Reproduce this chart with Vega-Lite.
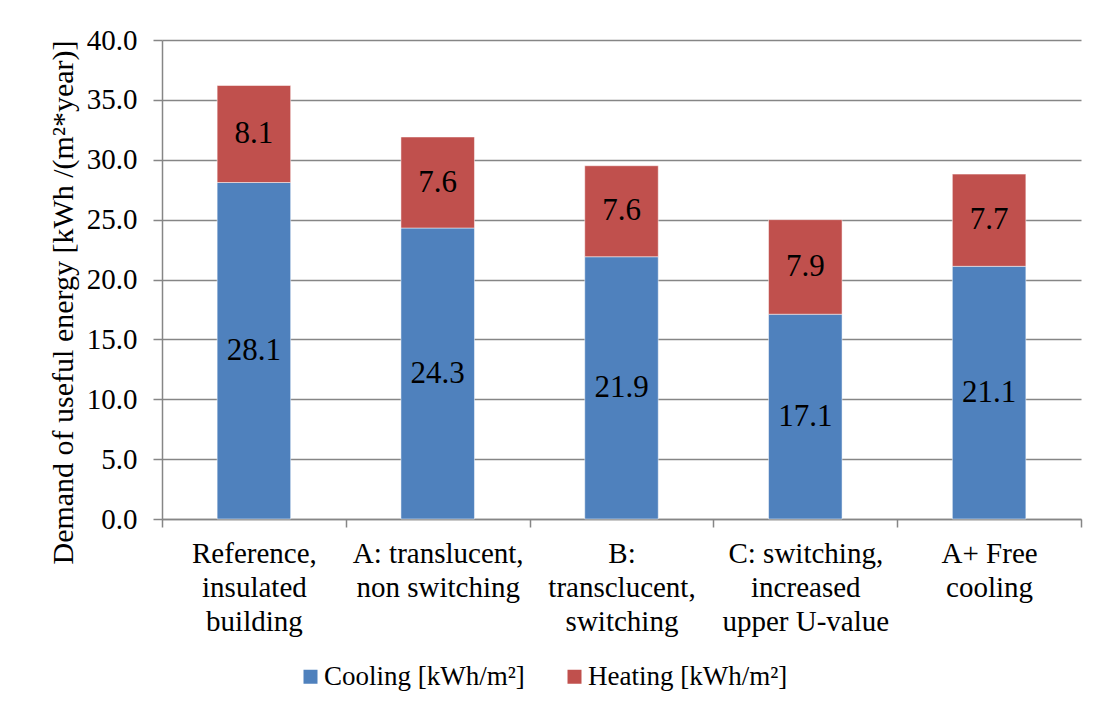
{
  "$schema": "https://vega.github.io/schema/vega-lite/v6.json",
  "width": 919,
  "height": 479,
  "autosize": {"type": "none"},
  "padding": {"left": 162, "top": 40, "right": 24, "bottom": 192},
  "background": "white",
  "config": {
    "font": "Liberation Serif",
    "view": {"stroke": null},
    "axis": {"labelColor": "black", "titleColor": "black", "domainColor": "#868686", "tickColor": "#868686", "domainWidth": 1.5, "tickWidth": 1.5}
  },
  "data": {
    "values": [
      {"scenario": "Reference,|insulated|building", "series": "Cooling [kWh/m²]", "value": 28.1},
      {"scenario": "Reference,|insulated|building", "series": "Heating [kWh/m²]", "value": 8.1},
      {"scenario": "A: translucent,|non switching", "series": "Cooling [kWh/m²]", "value": 24.3},
      {"scenario": "A: translucent,|non switching", "series": "Heating [kWh/m²]", "value": 7.6},
      {"scenario": "B:|transclucent,|switching", "series": "Cooling [kWh/m²]", "value": 21.9},
      {"scenario": "B:|transclucent,|switching", "series": "Heating [kWh/m²]", "value": 7.6},
      {"scenario": "C: switching,|increased|upper U-value", "series": "Cooling [kWh/m²]", "value": 17.1},
      {"scenario": "C: switching,|increased|upper U-value", "series": "Heating [kWh/m²]", "value": 7.9},
      {"scenario": "A+ Free|cooling", "series": "Cooling [kWh/m²]", "value": 21.1},
      {"scenario": "A+ Free|cooling", "series": "Heating [kWh/m²]", "value": 7.7}
    ]
  },
  "transform": [
    {"stack": "value", "groupby": ["scenario"], "sort": [{"field": "series", "order": "ascending"}], "as": ["v0", "v1"]},
    {"calculate": "(datum.v0 + datum.v1) / 2", "as": "mid"}
  ],
  "encoding": {
    "x": {
      "field": "scenario",
      "type": "nominal",
      "sort": null,
      "scale": {"paddingInner": 0, "paddingOuter": 0},
      "axis": {
        "title": null,
        "tickBand": "extent",
        "tickSize": 8,
        "labelAngle": 0,
        "labelExpr": "split(datum.label, '|')",
        "labelFontSize": 29,
        "labelLineHeight": 34,
        "labelPadding": 12,
        "labelLimit": 0,
        "grid": false
      }
    }
  },
  "layer": [
    {
      "mark": {"type": "bar", "width": {"band": 0.4}, "stroke": "#ffffff", "strokeWidth": 0.7, "strokeOpacity": 0.7},
      "encoding": {
        "y": {
          "field": "v0",
          "type": "quantitative",
          "scale": {"domain": [0, 40]},
          "axis": {
            "values": [0, 5, 10, 15, 20, 25, 30, 35, 40],
            "format": ".1f",
            "grid": true,
            "gridColor": "#868686",
            "gridWidth": 1.5,
            "tickSize": 9,
            "labelPadding": 16,
            "labelFontSize": 29,
            "title": "Demand of useful energy [kWh /(m²*year)]",
            "titleFontSize": 30,
            "titleFontWeight": "normal",
            "titlePadding": 8,
            "titleY": 262
          }
        },
        "y2": {"field": "v1"},
        "color": {
          "field": "series",
          "type": "nominal",
          "scale": {"domain": ["Cooling [kWh/m²]", "Heating [kWh/m²]"], "range": ["#4F81BD", "#C0504D"]},
          "legend": {
            "title": null,
            "orient": "none",
            "legendX": 135,
            "legendY": 623,
            "direction": "horizontal",
            "symbolType": "square",
            "symbolSize": 196,
            "symbolStrokeWidth": 0,
            "labelFontSize": 27,
            "labelColor": "black",
            "labelOffset": 0,
            "columnPadding": 36,
            "labelLimit": 0
          }
        }
      }
    },
    {
      "mark": {"type": "text", "fontSize": 31, "color": "black"},
      "encoding": {
        "y": {"field": "mid", "type": "quantitative"},
        "text": {"field": "value", "type": "quantitative", "format": ".1f"}
      }
    }
  ]
}
